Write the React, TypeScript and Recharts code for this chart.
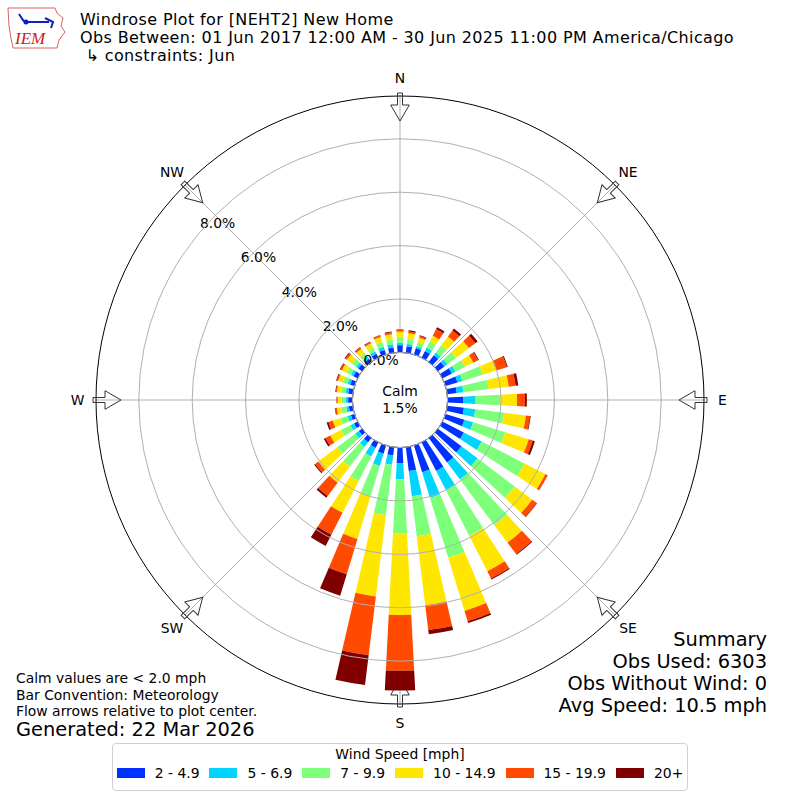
import React from "react";
import {
  RadialBarChart,
  RadialBar,
  PolarAngleAxis,
  PolarRadiusAxis,
  PolarGrid,
} from "recharts";

// wind directions (deg, meteorological) and percent frequency per speed bin
const directions = [
  0, 10, 20, 30, 40, 50, 60, 70, 80, 90, 100, 110, 120, 130, 140, 150, 160, 170,
  180, 190, 200, 210, 220, 230, 240, 250, 260, 270, 280, 290, 300, 310, 320, 330,
  340, 350,
];
const spd02 = [
  0.27, 0.25, 0.25, 0.28, 0.32, 0.3, 0.4, 0.47, 0.36, 0.58, 0.63, 0.74, 0.9, 1.1,
  1.15, 1.2, 1.05, 0.9, 0.59, 0.31, 0.32, 0.23, 0.2, 0.15, 0.15, 0.14, 0.15, 0.16,
  0.17, 0.17, 0.17, 0.18, 0.15, 0.16, 0.18, 0.2,
];
const spd05 = [
  0.09, 0.09, 0.08, 0.14, 0.13, 0.15, 0.15, 0.19, 0.25, 0.47, 0.43, 0.34, 0.75,
  0.75, 0.8, 0.8, 1.0, 0.95, 0.6, 0.35, 0.48, 0.37, 0.22, 0.17, 0.15, 0.13, 0.1,
  0.1, 0.1, 0.1, 0.11, 0.1, 0.1, 0.1, 0.12, 0.12,
];
const spd07 = [
  0.2, 0.18, 0.15, 0.26, 0.33, 0.4, 0.4, 0.8, 0.95, 0.93, 1.09, 1.26, 1.8, 1.75,
  2.15, 1.93, 2.35, 1.51, 2.02, 1.9, 1.2, 1.02, 0.92, 0.84, 0.4, 0.28, 0.17, 0.14,
  0.15, 0.18, 0.18, 0.2, 0.17, 0.16, 0.18, 0.18,
];
const spd10 = [
  0.22, 0.22, 0.18, 0.24, 0.42, 0.6, 0.35, 0.53, 0.76, 0.62, 0.82, 0.92, 0.88,
  0.82, 0.81, 1.49, 2.08, 2.6, 3.06, 3.07, 1.66, 1.34, 0.76, 0.89, 0.45, 0.3, 0.18,
  0.15, 0.18, 0.19, 0.2, 0.24, 0.2, 0.18, 0.2, 0.2,
];
const spd15 = [
  0.06, 0.06, 0.06, 0.28, 0.28, 0.3, 0.2, 0.41, 0.26, 0.3, 0.15, 0.16, 0.09, 0.21,
  0.53, 0.3, 0.4, 0.94, 2.09, 2.22, 1.38, 0.92, 0.62, 0.15, 0.2, 0.17, 0.06, 0.04,
  0.04, 0.05, 0.06, 0.07, 0.06, 0.06, 0.06, 0.07,
];
const spd20 = [
  0.02, 0.05, 0.03, 0.08, 0.09, 0.11, 0.03, 0.04, 0.1, 0.07, 0.03, 0.08, 0.01,
  0.02, 0.04, 0.04, 0.07, 0.16, 0.74, 1.12, 0.84, 0.47, 0.08, 0.04, 0.07, 0.07,
  0.02, 0.01, 0.02, 0.03, 0.03, 0.03, 0.02, 0.02, 0.02, 0.03,
];

const binLabels = ["2 - 4.9", "5 - 6.9", "7 - 9.9", "10 - 14.9", "15 - 19.9", "20+"];
const binKeys = ["s02", "s05", "s07", "s10", "s15", "s20"];
const binColors = ["#0032ff", "#00d4ff", "#7dff7a", "#ffe600", "#ff4a00", "#800000"];
const radiusTicks = [0, 2, 4, 6, 8];
const compassNames = ["N", "NE", "E", "SE", "S", "SW", "W", "NW"];
const calmPct = "1.5%";

const data = directions.map((d, i) => ({
  dir: String(d),
  s02: spd02[i],
  s05: spd05[i],
  s07: spd07[i],
  s10: spd10[i],
  s15: spd15[i],
  s20: spd20[i],
}));

const CX = 400;
const CY = 400;
const R_IN = 47.6; // 0% ring = calm circle
const PX_PER_PCT = 26.7;
const R_TOP = 10; // radius axis domain top
const R_FRAME = 304; // black outer frame (~9.6%)
const rOf = (v: number) => R_IN + v * PX_PER_PCT;

const FONT = '"DejaVu Sans", sans-serif';

function RadiusTick(props: any) {
  const { x, y, payload } = props;
  return (
    <text x={x} y={y} dy={-4} textAnchor="start" fontSize={13.9} fill="#000">
      {`${Number(payload.value).toFixed(1)}%`}
    </text>
  );
}

// spokes, frame, flow arrows, compass labels and the calm disc
function Decorations() {
  return (
    <g>
      {compassNames.map((name, i) => {
        const rad = (i * 45 * Math.PI) / 180;
        return (
          <line
            key={name}
            x1={CX}
            y1={CY}
            x2={CX + R_FRAME * Math.sin(rad)}
            y2={CY - R_FRAME * Math.cos(rad)}
            stroke="#b0b0b0"
            strokeWidth={1}
          />
        );
      })}
      <circle cx={CX} cy={CY} r={R_FRAME} fill="none" stroke="#000" strokeWidth={1} />
      <circle cx={CX} cy={CY} r={R_IN} fill="#fff" stroke="#000" strokeWidth={1} />
      <text x={CX} y={CY - 9} textAnchor="middle" dominantBaseline="central" fontSize={13.9}>
        Calm
      </text>
      <text x={CX} y={CY + 8} textAnchor="middle" dominantBaseline="central" fontSize={13.9}>
        {calmPct}
      </text>
      {compassNames.map((name, i) => {
        const deg = i * 45;
        const rad = (deg * Math.PI) / 180;
        const ax = CX + (R_FRAME + 3) * Math.sin(rad);
        const ay = CY - (R_FRAME + 3) * Math.cos(rad);
        const lx = CX + (R_FRAME + 18.5) * Math.sin(rad);
        const ly = CY - (R_FRAME + 18.5) * Math.cos(rad);
        return (
          <g key={name}>
            <path
              d="M0,-2.5 L12,-2.5 L12,-9.3 L28,0 L12,9.3 L12,2.5 L0,2.5 Z"
              transform={`translate(${ax},${ay}) rotate(${deg + 90})`}
              fill="none"
              stroke="#333"
              strokeWidth={1}
            />
            <text x={lx} y={ly} textAnchor="middle" dominantBaseline="central" fontSize={13.9}>
              {name}
            </text>
          </g>
        );
      })}
    </g>
  );
}

function Logo() {
  return (
    <svg width={62} height={48} style={{ position: "absolute", left: 5, top: 4 }}>
      <path
        d="M3,4 L50,4 L52,9 L58,14 L56,22 L60,28 L54,36 L52,44 L8,44 L6,34 L4,22 Z"
        fill="#fff"
        stroke="#e06060"
        strokeWidth={1}
      />
      <path d="M14,10 L18,16 L20,18 L44,18 M40,14 L48,18 L46,24" stroke="#1020c0" strokeWidth={2} fill="none" />
      <circle cx={21} cy={18} r={2.5} fill="#1020c0" />
      <text x={10} y={40} fontSize={17} fontStyle="italic" fontFamily='"Liberation Serif", serif' fill="#cc2020">
        IEM
      </text>
    </svg>
  );
}

const headerLine = { height: 17.8, lineHeight: "17.8px", fontSize: 16, letterSpacing: 0.38 };

export default function App() {
  return (
    <div
      style={{
        position: "absolute",
        left: 0,
        top: 0,
        width: 800,
        height: 800,
        background: "#fff",
        fontFamily: FONT,
        color: "#000",
        overflow: "hidden",
      }}
    >
      <div style={{ position: "absolute", left: 0, top: 0 }}>
        <RadialBarChart
          width={800}
          height={800}
          data={data}
          layout="centric"
          cx={CX}
          cy={CY}
          innerRadius={R_IN}
          outerRadius={rOf(R_TOP)}
          startAngle={85}
          endAngle={-275}
          barCategoryGap="20%"
          margin={{ top: 0, right: 0, bottom: 0, left: 0 }}
        >
          <PolarAngleAxis type="category" dataKey="dir" tick={false} tickLine={false} axisLine={false} />
          {binKeys.map((k, i) => (
            <RadialBar
              key={k}
              dataKey={k}
              name={binLabels[i]}
              stackId="wind"
              fill={binColors[i]}
              isAnimationActive={false}
            />
          ))}
          <PolarGrid
            gridType="circle"
            radialLines={false}
            polarAngles={[90, 45, 0, -45, -90, -135, 180, 135]}
            polarRadius={radiusTicks.map(rOf)}
            stroke="#b0b0b0"
            strokeWidth={1}
            zIndex={600}
          />
          <Decorations />
          <PolarRadiusAxis
            type="number"
            domain={[0, R_TOP]}
            ticks={radiusTicks}
            allowDataOverflow
            angle={140}
            axisLine={false}
            tickLine={false}
            tick={RadiusTick}
          />
        </RadialBarChart>
      </div>

      <Logo />
      <div style={{ position: "absolute", left: 80, top: 11, whiteSpace: "pre" }}>
        <div style={headerLine}>Windrose Plot for [NEHT2] New Home</div>
        <div style={headerLine}>Obs Between: 01 Jun 2017 12:00 AM - 30 Jun 2025 11:00 PM America/Chicago</div>
        <div style={headerLine}> ↳ constraints: Jun</div>
      </div>

      <div style={{ position: "absolute", right: 33, top: 629, fontSize: 19.4, lineHeight: "22px", textAlign: "right", whiteSpace: "pre" }}>
        <div>Summary</div>
        <div>Obs Used: 6303</div>
        <div>Obs Without Wind: 0</div>
        <div>Avg Speed: 10.5 mph</div>
      </div>

      <div style={{ position: "absolute", left: 16, top: 670, fontSize: 13.9, lineHeight: "16.6px", whiteSpace: "pre" }}>
        <div>Calm values are &lt; 2.0 mph</div>
        <div>Bar Convention: Meteorology</div>
        <div>Flow arrows relative to plot center.</div>
      </div>
      <div style={{ position: "absolute", left: 16, top: 719, fontSize: 19.4, lineHeight: "22px", whiteSpace: "pre" }}>
        Generated: 22 Mar 2026
      </div>

      <div
        style={{
          position: "absolute",
          left: 112,
          top: 743,
          width: 576,
          height: 48,
          border: "1px solid #d0d0d0",
          borderRadius: 4,
          boxSizing: "border-box",
          fontSize: 13.9,
        }}
      >
        <div style={{ textAlign: "center", marginTop: 1, lineHeight: "18px" }}>Wind Speed [mph]</div>
        <div style={{ display: "flex", justifyContent: "center", alignItems: "center", gap: 10, marginTop: 2 }}>
          {binLabels.map((lab, i) => (
            <div key={lab} style={{ display: "flex", alignItems: "center" }}>
              <span style={{ display: "inline-block", width: 28, height: 10, background: binColors[i], marginRight: 10 }} />
              <span>{lab}</span>
            </div>
          ))}
        </div>
      </div>
    </div>
  );
}
